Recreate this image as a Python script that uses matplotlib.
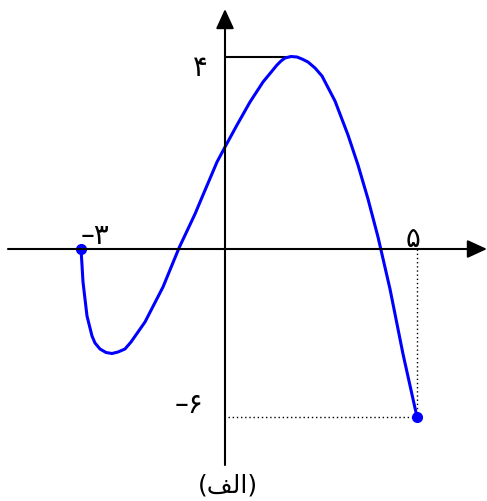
import matplotlib
matplotlib.use("Agg")
import matplotlib.pyplot as plt

# Schematic drawing units (1 unit = 10 px), origin at the axes crossing
curve_x = [-14.4, -14.3, -14.2, -14.0, -13.8, -13.3, -13.0, -12.5, -11.9, -11.3,
           -10.7, -10.0, -9.4, -8.7, -8.0, -6.2, -4.6, -3.0, -2.2, -0.8,
           0.0, 1.2, 2.5, 3.8, 5.2, 5.6, 6.0, 6.6, 7.2, 7.7,
           8.3, 9.0, 9.7, 11.0, 12.3, 13.3, 14.3, 15.3, 16.5, 17.8, 19.2]
curve_y = [0.0, -1.6, -3.3, -5.0, -6.7, -8.7, -9.4, -10.0, -10.35, -10.45,
           -10.3, -10.0, -9.3, -8.3, -7.3, -3.8, 0.1, 3.5, 5.4, 8.7,
           10.2, 12.4, 14.7, 16.7, 18.4, 18.8, 19.1, 19.25, 19.2, 19.0,
           18.7, 18.1, 17.3, 14.8, 11.4, 8.4, 5.0, 1.2, -4.0, -10.5, -16.8]
start_pt = (-14.4, 0.0)
end_pt = (19.2, -16.8)
max_level = 19.25
max_x = 6.6

x_labels = ["–۳", "۵"]
x_label_pos = [(-13.0, 1.4), (18.8, 1.1)]
y_labels = ["۴", "–۶"]
y_label_pos = [(-2.5, 18.2), (-3.6, -15.5)]
caption = "(\uFED2\uFEDF\uFE8D)"  # (الف) in visual order, presentation forms

fig = plt.figure(figsize=(4.87, 5.02), dpi=100)
ax = fig.add_axes([0, 0, 1, 1])
ax.set_xlim(-22.5, 26.2)
ax.set_ylim(-25.2, 25.0)
ax.axis("off")

# axes with arrows
ax.annotate("", xy=(26.2, 0), xytext=(-21.7, 0),
            arrowprops=dict(arrowstyle="-|>,head_length=1.2,head_width=0.55",
                            lw=1.5, color="black", shrinkA=0, shrinkB=0,
                            mutation_scale=10))
ax.annotate("", xy=(0, 24.0), xytext=(0, -21.6),
            arrowprops=dict(arrowstyle="-|>,head_length=1.2,head_width=0.55",
                            lw=1.5, color="black", shrinkA=0, shrinkB=0,
                            mutation_scale=10))

# max level line
ax.plot([0, max_x], [max_level, max_level], color="black", lw=1.5, solid_capstyle="butt")

# dotted guides
ax.plot([end_pt[0], end_pt[0]], [0, end_pt[1]], color="black", lw=1.0,
        linestyle=(0, (1, 2)))
ax.plot([0.3, end_pt[0]], [end_pt[1], end_pt[1]], color="black", lw=1.0,
        linestyle=(0, (1, 2)))

# curve
ax.plot(curve_x, curve_y, color="#0000ff", lw=2.2, solid_joinstyle="round",
        solid_capstyle="round")
ax.plot([start_pt[0], end_pt[0]], [start_pt[1], end_pt[1]], "o", color="#0000ff",
        markersize=7, linestyle="none")

for t, (x, y) in zip(x_labels, x_label_pos):
    ax.text(x, y, t, fontsize=20, ha="center", va="center", family="DejaVu Sans")
for t, (x, y) in zip(y_labels, y_label_pos):
    ax.text(x, y, t, fontsize=20, ha="center", va="center", family="DejaVu Sans")
ax.text(0.3, -23.6, caption, fontsize=18, ha="center", va="center", family="DejaVu Sans")

fig.savefig("out.png", dpi=100)
